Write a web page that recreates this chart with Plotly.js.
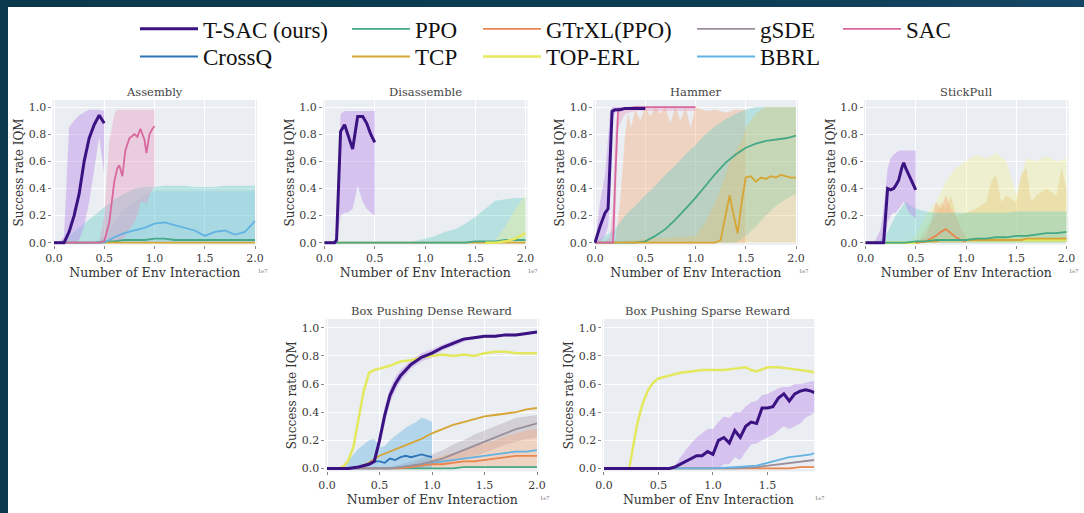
<!DOCTYPE html>
<html><head><meta charset="utf-8">
<script src="https://cdn.plot.ly/plotly-3.0.1.min.js"></script>
<style>
html,body{margin:0;padding:0;width:1084px;height:513px;overflow:hidden;background:linear-gradient(100deg,#0b384c 0%,#0d3c52 60%,#18496b 100%);}
#chart{position:absolute;left:8px;top:7px;width:1076px;height:506px;background:#fff;}
</style></head><body><div id="chart"></div>
<script>
// ---------------- series ----------------
const SERIES = ['T-SAC (ours)','PPO','GTrXL(PPO)','gSDE','SAC','CrossQ','TCP','TOP-ERL','BBRL'];
const LINE_COLORS = ['#3b1282','#45a886','#e8864f','#9b8f9c','#d8679e','#2f74b8','#d6a533','#e3e85c','#62b2e3'];
const FILL_COLORS = ['rgba(185,135,235,0.42)','rgba(95,205,195,0.36)','rgba(245,170,125,0.4)','rgba(160,145,160,0.33)','rgba(232,150,190,0.38)','rgba(110,185,230,0.45)','rgba(232,195,100,0.33)','rgba(242,242,150,0.38)','rgba(140,200,235,0.33)'];
const LINE_WIDTHS = [3,1.8,1.8,1.8,1.8,1.8,1.8,2.5,1.8];
const PANEL_TITLES = ['Assembly','Disassemble','Hammer','StickPull','Box Pushing Dense Reward','Box Pushing Sparse Reward'];
const X_TITLE = 'Number of Env Interaction';
const Y_TITLE = 'Success rate IQM';
const EXP_LABEL = '1e7';

// ---------------- shared x grids ----------------
const X_FULL = [0,0.1,0.2,0.3,0.4,0.5,0.6,0.7,0.8,0.9,1.0,1.1,1.2,1.3,1.4,1.5,1.6,1.7,1.8,1.9,2.0];
const X_HALF = [0,0.05,0.1,0.15,0.2,0.25,0.3,0.35,0.4,0.45,0.5];
const X_ONE = [0,0.05,0.1,0.15,0.2,0.25,0.3,0.35,0.4,0.45,0.5,0.55,0.6,0.65,0.7,0.75,0.8,0.85,0.9,0.95,1.0];
const ZERO21 = [0,0,0,0,0,0,0,0,0,0,0,0,0,0,0,0,0,0,0,0,0];

// ---------------- Assembly ----------------
const asm_tsac = [0,0,0,0.08,0.2,0.36,0.6,0.77,0.87,0.94,0.88];
const asm_tsac_lo = [0,0,0,0,0,0.02,0.12,0.3,0.55,0.78,0.5];
const asm_tsac_hi = [0,0,0.05,0.85,0.9,0.94,0.96,0.98,0.98,0.98,0.97];
const asm_sac_x = [0,0.45,0.5,0.55,0.6,0.63,0.65,0.68,0.71,0.75,0.8,0.83,0.86,0.88,0.9,0.92,0.95,0.98,1.0];
const asm_sac = [0,0,0.01,0.15,0.45,0.55,0.57,0.49,0.68,0.77,0.8,0.78,0.84,0.8,0.76,0.66,0.8,0.84,0.86];
const asm_sac_lo = [0,0,0,0,0,0,0,0.02,0.05,0.1,0.15,0.2,0.3,0.3,0.3,0.28,0.35,0.4,0.4];
const asm_sac_hi = [0,0,0.2,0.75,0.95,0.98,0.98,0.98,0.98,0.98,0.98,0.98,0.98,0.98,0.98,0.98,0.98,0.98,0.98];
const asm_ppo = [0,0,0,0,0,0.01,0.01,0.02,0.02,0.02,0.03,0.03,0.02,0.02,0.02,0.02,0.02,0.02,0.02,0.02,0.02];
const asm_ppo_hi = [0,0.02,0.08,0.14,0.2,0.26,0.32,0.36,0.4,0.41,0.41,0.42,0.42,0.42,0.41,0.41,0.41,0.42,0.42,0.42,0.42];
const asm_bbrl = [0,0,0,0,0,0,0.04,0.07,0.09,0.11,0.14,0.15,0.13,0.11,0.09,0.05,0.08,0.09,0.06,0.08,0.16];
const asm_bbrl_hi = [0,0,0,0,0,0.05,0.15,0.25,0.3,0.35,0.38,0.38,0.38,0.38,0.38,0.38,0.38,0.38,0.38,0.38,0.38];
const asm_tcp = [0,0,0,0,0,0,0,0,0,0,0,0,0,0,0,0,0,0,0,0,0];

// ---------------- Disassemble ----------------
const dis_tsac_x = [0,0.05,0.1,0.12,0.16,0.2,0.23,0.28,0.33,0.38,0.42,0.46,0.5];
const dis_tsac = [0,0,0,0.02,0.82,0.87,0.8,0.69,0.93,0.93,0.88,0.8,0.74];
const dis_tsac_lo = [0,0,0,0,0.2,0.22,0.22,0.25,0.42,0.3,0.25,0.22,0.2];
const dis_tsac_hi = [0,0,0,0.1,0.95,0.97,0.97,0.97,0.97,0.97,0.97,0.97,0.97];
const dis_ppo = [0,0,0,0,0,0,0,0,0,0,0,0,0,0,0,0.01,0.01,0.01,0.02,0.02,0.02];
const dis_ppo_hi = [0,0,0,0,0,0,0,0,0,0.01,0.03,0.05,0.08,0.1,0.14,0.19,0.25,0.31,0.32,0.33,0.33];
const dis_top_x = [1.6,1.7,1.8,1.9,2.0];
const dis_top = [0,0,0.01,0.03,0.07];
const dis_top_lo = [0,0,0,0,0];
const dis_top_hi = [0,0.02,0.12,0.25,0.35];
const dis_tcp = [0,0,0,0,0,0,0,0,0,0,0,0,0,0,0,0,0,0,0,0,0];

// ---------------- Hammer ----------------
const ham_tsac_x = [0,0.05,0.1,0.13,0.15,0.17,0.2,0.25,0.3,0.35,0.4,0.45,0.5];
const ham_tsac = [0,0.12,0.22,0.25,0.6,0.97,0.98,0.98,0.99,0.99,0.99,0.99,0.99];
const ham_tsac_hi = [0,0.3,0.5,0.75,0.95,1.0,1.0,1.0,1.0,1.0,1.0,1.0,1.0];
const ham_tsac_lo = [0,0,0.05,0.12,0.3,0.9,0.96,0.97,0.98,0.98,0.98,0.98,0.98];
const ham_sac_x = [0,0.1,0.15,0.18,0.2,0.23,0.3,0.4,0.5,0.6,0.7,0.8,0.9,1.0];
const ham_sac = [0,0,0,0,0.45,0.98,0.99,1,1,1,1,1,1,1];
const ham_sac_hi = [0,0,0.05,0.3,0.8,1,1,1,1,1,1,1,1,1];
const ham_sac_lo = [0,0,0,0,0.1,0.85,0.95,0.97,0.97,0.97,0.97,0.97,0.97,0.97];
const ham_gtrxl_x = [0.2,0.25,0.3,0.33,0.36,0.4,0.45,0.5,0.55,0.6,0.65,0.7,0.75,0.8,0.85,0.9,0.95,1.0,1.1,1.2,1.3,1.4,1.5];
const ham_gtrxl_hi = [0,0.3,0.8,0.95,0.85,0.98,0.9,1.0,0.93,1.0,0.95,1.0,0.88,1.0,0.9,1.0,0.85,1.0,0.97,0.98,0.96,0.98,0.98];
const ham_gtrxl_lo = [0,0,0,0,0,0,0,0,0,0,0,0,0,0,0,0,0,0,0,0,0,0,0];
const ham_ppo = [0,0,0,0,0,0.01,0.05,0.1,0.17,0.25,0.33,0.42,0.51,0.59,0.65,0.7,0.73,0.75,0.76,0.77,0.79];
const ham_ppo_hi = [0,0.05,0.1,0.2,0.27,0.35,0.42,0.5,0.57,0.65,0.72,0.8,0.86,0.91,0.95,0.98,1,1,1,1,1];
const ham_ppo_lo = [0,0,0,0,0,0,0,0,0,0,0,0,0,0,0,0.05,0.12,0.2,0.27,0.32,0.36];
const ham_tcp_x = [0,1.0,1.1,1.2,1.25,1.3,1.34,1.38,1.42,1.46,1.5,1.55,1.6,1.65,1.7,1.75,1.8,1.85,1.9,1.95,2.0];
const ham_tcp = [0,0,0,0,0.02,0.22,0.35,0.2,0.07,0.3,0.48,0.49,0.45,0.48,0.47,0.49,0.48,0.5,0.49,0.48,0.48];
const ham_tcp_hi = [0,0.05,0.15,0.3,0.4,0.5,0.6,0.65,0.7,0.75,0.85,0.9,0.95,0.98,1,1,1,1,1,1,1];
const ham_tcp_lo = [0,0,0,0,0,0,0,0,0,0,0,0,0,0,0,0,0,0,0,0,0];

// ---------------- StickPull ----------------
const stp_tsac_x = [0,0.05,0.1,0.15,0.18,0.2,0.22,0.25,0.28,0.3,0.33,0.36,0.38,0.4,0.43,0.46,0.5];
const stp_tsac = [0,0,0,0,0,0.2,0.4,0.39,0.4,0.42,0.46,0.55,0.59,0.55,0.5,0.45,0.39];
const stp_tsac_hi = [0,0,0.02,0.1,0.25,0.4,0.55,0.62,0.65,0.66,0.68,0.68,0.68,0.68,0.68,0.68,0.68];
const stp_tsac_lo = [0,0,0,0,0,0.02,0.15,0.2,0.22,0.22,0.25,0.28,0.3,0.28,0.22,0.2,0.18];
const stp_ppo = [0,0,0,0,0,0.01,0.01,0.02,0.02,0.02,0.02,0.03,0.03,0.04,0.04,0.05,0.05,0.06,0.07,0.07,0.08];
const stp_ppo_hi = [0,0,0.05,0.2,0.3,0.25,0.23,0.22,0.22,0.22,0.22,0.22,0.22,0.22,0.22,0.23,0.23,0.23,0.23,0.23,0.23];
const stp_top = [0,0,0,0,0,0,0.01,0.02,0.02,0.02,0.02,0.02,0.02,0.02,0.02,0.02,0.02,0.02,0.02,0.02,0.02];
const stp_top_hi = [0,0,0,0,0,0.05,0.2,0.3,0.45,0.55,0.6,0.65,0.62,0.66,0.6,0.35,0.62,0.6,0.64,0.6,0.62];
const stp_tcp_x = [0.5,0.6,0.7,0.75,0.8,0.85,0.9,1.0,1.1,1.2,1.25,1.3,1.35,1.4,1.5,1.55,1.6,1.65,1.7,1.8,1.9,1.95,2.0];
const stp_tcp = [0,0.01,0.01,0.02,0.02,0.02,0.02,0.02,0.02,0.02,0.02,0.02,0.02,0.02,0.02,0.02,0.03,0.03,0.03,0.03,0.03,0.03,0.03];
const stp_tcp_hi = [0,0.1,0.2,0.3,0.25,0.35,0.2,0.22,0.25,0.3,0.45,0.5,0.3,0.35,0.3,0.5,0.55,0.3,0.35,0.4,0.35,0.55,0.4];
const stp_tcp_lo = [0,0,0,0,0,0,0,0,0,0,0,0,0,0,0,0,0,0,0,0,0,0,0];
const stp_gtrxl_x = [0.5,0.6,0.65,0.7,0.75,0.8,0.85,0.9,0.95,1.0];
const stp_gtrxl = [0,0.01,0.03,0.05,0.08,0.1,0.07,0.04,0.02,0.01];
const stp_gtrxl_hi = [0,0.05,0.15,0.3,0.25,0.35,0.25,0.2,0.1,0.05];
const stp_gtrxl_lo = [0,0,0,0,0,0,0,0,0,0];

// ---------------- Box Pushing Dense ----------------
const bpd_tsac_x = [0,0.1,0.2,0.3,0.35,0.4,0.45,0.5,0.55,0.6,0.65,0.7,0.8,0.9,1.0,1.1,1.2,1.3,1.4,1.5,1.6,1.7,1.8,1.9,2.0];
const bpd_tsac = [0,0,0,0.01,0.02,0.03,0.05,0.2,0.38,0.52,0.6,0.66,0.74,0.79,0.82,0.86,0.89,0.92,0.93,0.94,0.94,0.95,0.95,0.96,0.97];
const bpd_tsac_hi = [0,0,0,0.02,0.03,0.05,0.08,0.25,0.44,0.57,0.65,0.7,0.77,0.82,0.85,0.88,0.91,0.93,0.94,0.95,0.95,0.96,0.96,0.97,0.98];
const bpd_tsac_lo = [0,0,0,0,0.01,0.02,0.03,0.15,0.32,0.47,0.55,0.62,0.71,0.76,0.79,0.84,0.87,0.9,0.92,0.93,0.93,0.94,0.94,0.95,0.96];
const bpd_top_x = [0,0.1,0.15,0.2,0.25,0.3,0.35,0.4,0.45,0.5,0.6,0.7,0.8,0.9,1.0,1.1,1.2,1.3,1.4,1.5,1.6,1.7,1.8,1.9,2.0];
const bpd_top = [0,0,0.01,0.05,0.15,0.35,0.55,0.68,0.7,0.71,0.73,0.76,0.77,0.79,0.8,0.81,0.8,0.81,0.8,0.82,0.83,0.83,0.82,0.82,0.82];
const bpd_cq = [0,0,0,0,0,0,0.01,0.02,0.03,0.05,0.05,0.04,0.07,0.06,0.08,0.09,0.08,0.09,0.1,0.09,0.08];
const bpd_cq_hi = [0,0,0,0.02,0.05,0.1,0.14,0.17,0.2,0.21,0.15,0.16,0.2,0.23,0.26,0.29,0.31,0.33,0.36,0.35,0.33];
const bpd_tcp = [0,0,0,0.01,0.04,0.09,0.12,0.15,0.18,0.21,0.25,0.28,0.31,0.33,0.35,0.37,0.38,0.39,0.4,0.42,0.43];
const bpd_gsde = [0,0,0,0,0,0,0,0.01,0.02,0.03,0.05,0.07,0.1,0.13,0.16,0.19,0.22,0.25,0.28,0.3,0.32];
const bpd_gsde_hi = [0,0,0,0,0,0,0.01,0.03,0.05,0.07,0.1,0.13,0.17,0.2,0.24,0.27,0.3,0.33,0.36,0.37,0.38];
const bpd_gsde_lo = [0,0,0,0,0,0,0,0,0,0.01,0.02,0.03,0.05,0.07,0.09,0.11,0.14,0.17,0.19,0.21,0.22];
const bpd_gtrxl = [0,0,0,0,0,0,0,0,0.01,0.02,0.03,0.03,0.04,0.05,0.05,0.06,0.07,0.08,0.09,0.09,0.09];
const bpd_gtrxl_hi = [0,0,0,0,0,0,0,0.01,0.03,0.05,0.07,0.09,0.11,0.13,0.16,0.18,0.2,0.23,0.25,0.27,0.28];
const bpd_bbrl = [0,0,0,0,0,0,0,0.01,0.02,0.03,0.04,0.05,0.06,0.07,0.08,0.09,0.1,0.11,0.12,0.12,0.13];
const bpd_ppo = [0,0,0,0,0,0,0,0,0,0,0,0,0,0.01,0.01,0.01,0.01,0.01,0.01,0.01,0.01];

// ---------------- Box Pushing Sparse ----------------
const bps_tsac_x = [0,0.2,0.4,0.6,0.65,0.7,0.75,0.8,0.85,0.9,0.95,1.0,1.05,1.1,1.15,1.2,1.25,1.3,1.35,1.4,1.45,1.5,1.55,1.6,1.65,1.7,1.75,1.8,1.85,1.9,1.93];
const bps_tsac = [0,0,0,0,0.01,0.03,0.05,0.07,0.09,0.09,0.12,0.1,0.2,0.22,0.18,0.27,0.22,0.3,0.33,0.32,0.43,0.43,0.44,0.5,0.53,0.48,0.53,0.55,0.56,0.55,0.54];
const bps_tsac_hi = [0,0,0,0,0.02,0.08,0.13,0.18,0.22,0.25,0.28,0.28,0.33,0.37,0.36,0.4,0.4,0.44,0.47,0.48,0.52,0.53,0.55,0.57,0.58,0.58,0.6,0.6,0.61,0.62,0.62];
const bps_tsac_lo = [0,0,0,0,0,0,0,0,0,0,0,0,0,0.03,0.03,0.08,0.06,0.12,0.17,0.18,0.2,0.22,0.24,0.27,0.3,0.28,0.3,0.32,0.36,0.38,0.4];
const bps_top_x = [0,0.1,0.2,0.23,0.25,0.3,0.35,0.4,0.45,0.5,0.6,0.7,0.8,0.9,1.0,1.1,1.2,1.3,1.35,1.4,1.5,1.6,1.7,1.8,1.9,1.93];
const bps_top = [0,0,0,0,0.08,0.3,0.45,0.55,0.61,0.64,0.66,0.68,0.69,0.7,0.7,0.7,0.71,0.72,0.7,0.69,0.72,0.72,0.71,0.7,0.69,0.68];
const bps_low_x = [0,0.5,1.0,1.2,1.4,1.5,1.6,1.7,1.8,1.9,1.93];
const bps_bbrl = [0,0,0,0.01,0.02,0.04,0.06,0.08,0.09,0.1,0.11];
const bps_gsde = [0,0,0,0,0.01,0.02,0.03,0.04,0.05,0.06,0.06];
const bps_gtrxl = [0,0,0,0,0,0,0,0,0.01,0.01,0.01];

// ---------------- build traces ----------------
const S = {TSAC:0,PPO:1,GTRXL:2,GSDE:3,SAC:4,CROSSQ:5,TCP:6,TOPERL:7,BBRL:8};
const traces = [];
const shown = {};
function ax(i){ return i===1 ? ['x','y'] : ['x'+i,'y'+i]; }
function band(p, s, xs, lo, hi){
  const [xa, ya] = ax(p);
  traces.push({x:xs, y:lo, xaxis:xa, yaxis:ya, mode:'lines', line:{width:0, color:'rgba(0,0,0,0)'}, showlegend:false, hoverinfo:'skip'});
  traces.push({x:xs, y:hi, xaxis:xa, yaxis:ya, mode:'lines', line:{width:0, color:'rgba(0,0,0,0)'}, fill:'tonexty', fillcolor:FILL_COLORS[s], showlegend:false, hoverinfo:'skip'});
}
function line(p, s, xs, ys){
  const [xa, ya] = ax(p);
  const leg = s===0 ? 'legend' : 'legend'+(s+1);
  traces.push({x:xs, y:ys, xaxis:xa, yaxis:ya, mode:'lines', name:SERIES[s], legend:leg,
    line:{color:LINE_COLORS[s], width:LINE_WIDTHS[s]}, showlegend: !shown[s]});
  shown[s] = true;
}
// Assembly
band(1,S.PPO,X_FULL,ZERO21,asm_ppo_hi);
band(1,S.BBRL,X_FULL,ZERO21,asm_bbrl_hi);
band(1,S.SAC,asm_sac_x,asm_sac_lo,asm_sac_hi);
band(1,S.TSAC,X_HALF,asm_tsac_lo,asm_tsac_hi);
line(1,S.PPO,X_FULL,asm_ppo);
line(1,S.TCP,X_FULL,asm_tcp);
line(1,S.BBRL,X_FULL,asm_bbrl);
line(1,S.SAC,asm_sac_x,asm_sac);
line(1,S.TSAC,X_HALF,asm_tsac);
// Disassemble
band(2,S.PPO,X_FULL,ZERO21,dis_ppo_hi);
band(2,S.TOPERL,dis_top_x,dis_top_lo,dis_top_hi);
band(2,S.TSAC,dis_tsac_x,dis_tsac_lo,dis_tsac_hi);
line(2,S.TCP,X_FULL,dis_tcp);
line(2,S.PPO,X_FULL,dis_ppo);
line(2,S.TOPERL,dis_top_x,dis_top);
line(2,S.TSAC,dis_tsac_x,dis_tsac);
// Hammer
band(3,S.GTRXL,ham_gtrxl_x,ham_gtrxl_lo,ham_gtrxl_hi);
band(3,S.PPO,X_FULL,ham_ppo_lo,ham_ppo_hi);
band(3,S.TCP,ham_tcp_x,ham_tcp_lo,ham_tcp_hi);
band(3,S.SAC,ham_sac_x,ham_sac_lo,ham_sac_hi);
band(3,S.TSAC,ham_tsac_x,ham_tsac_lo,ham_tsac_hi);
line(3,S.PPO,X_FULL,ham_ppo);
line(3,S.TCP,ham_tcp_x,ham_tcp);
line(3,S.SAC,ham_sac_x,ham_sac);
line(3,S.TSAC,ham_tsac_x,ham_tsac);
// StickPull
band(4,S.TOPERL,X_FULL,ZERO21,stp_top_hi);
band(4,S.TCP,stp_tcp_x,stp_tcp_lo,stp_tcp_hi);
band(4,S.GTRXL,stp_gtrxl_x,stp_gtrxl_lo,stp_gtrxl_hi);
band(4,S.PPO,X_FULL,ZERO21,stp_ppo_hi);
band(4,S.TSAC,stp_tsac_x,stp_tsac_lo,stp_tsac_hi);
line(4,S.TOPERL,X_FULL,stp_top);
line(4,S.TCP,stp_tcp_x,stp_tcp);
line(4,S.GTRXL,stp_gtrxl_x,stp_gtrxl);
line(4,S.PPO,X_FULL,stp_ppo);
line(4,S.TSAC,stp_tsac_x,stp_tsac);
// Box Pushing Dense
band(5,S.GSDE,X_FULL,bpd_gsde_lo,bpd_gsde_hi);
band(5,S.GTRXL,X_FULL,ZERO21,bpd_gtrxl_hi);
band(5,S.CROSSQ,X_ONE,ZERO21,bpd_cq_hi);
band(5,S.TSAC,bpd_tsac_x,bpd_tsac_lo,bpd_tsac_hi);
line(5,S.PPO,X_FULL,bpd_ppo);
line(5,S.BBRL,X_FULL,bpd_bbrl);
line(5,S.GTRXL,X_FULL,bpd_gtrxl);
line(5,S.GSDE,X_FULL,bpd_gsde);
line(5,S.TCP,X_FULL,bpd_tcp);
line(5,S.CROSSQ,X_ONE,bpd_cq);
line(5,S.TOPERL,bpd_top_x,bpd_top);
line(5,S.TSAC,bpd_tsac_x,bpd_tsac);
// Box Pushing Sparse
band(6,S.TSAC,bps_tsac_x,bps_tsac_lo,bps_tsac_hi);
line(6,S.GTRXL,bps_low_x,bps_gtrxl);
line(6,S.GSDE,bps_low_x,bps_gsde);
line(6,S.BBRL,bps_low_x,bps_bbrl);
line(6,S.TOPERL,bps_top_x,bps_top);
line(6,S.TSAC,bps_tsac_x,bps_tsac);

// ---------------- layout ----------------
const W = 1076, H = 506, OX = 8, OY = 7;
const px2x = p => (p - OX) / W;
const px2y = p => 1 - (p - OY) / H;
const XMIN = -0.015;
const PANELS = [
  {x0:54,    ppx:100.5, xmax:2.02, y0:240, ppy:137, top:96,  bot:242},
  {x0:324.5, ppx:100.5, xmax:2.02, y0:240, ppy:137, top:96,  bot:242},
  {x0:595,   ppx:100.5, xmax:2.02, y0:240, ppy:137, top:96,  bot:242},
  {x0:865.5, ppx:100.5, xmax:2.02, y0:240, ppy:137, top:96,  bot:242},
  {x0:327,   ppx:105,   xmax:2.02, y0:468, ppy:142, top:317, bot:471},
  {x0:604,   ppx:109,   xmax:1.93, y0:468, ppy:142, top:317, bot:471}
];
const FONT = 'DejaVu Serif';
const layout = {
  width:W, height:H, margin:{l:0,r:0,t:0,b:0},
  paper_bgcolor:'#ffffff', plot_bgcolor:'#eaedf1',
  font:{family:FONT, color:'#333'},
  annotations:[]
};
PANELS.forEach((p,i) => {
  const n = i+1;
  const xk = n===1 ? 'xaxis' : 'xaxis'+n;
  const yk = n===1 ? 'yaxis' : 'yaxis'+n;
  const left = p.x0 + XMIN*p.ppx, right = p.x0 + p.xmax*p.ppx;
  layout[xk] = {
    domain:[px2x(left), px2x(right)], range:[XMIN, p.xmax], anchor: n===1?'y':'y'+n,
    tick0:0, dtick:0.5, tickformat:'.1f', showgrid:true, gridcolor:'#ffffff', gridwidth:1,
    zeroline:false, showline:false, ticks:'outside', ticklen:3, tickcolor:'#888',
    tickfont:{family:FONT, size:11, color:'#3a3a3a'},
    title:{text:X_TITLE, font:{family:FONT, size:12.5, color:'#333'}, standoff:0}, fixedrange:true
  };
  layout[yk] = {
    domain:[px2y(p.bot), px2y(p.top)], range:[-(p.bot-p.y0)/p.ppy, (p.y0-p.top)/p.ppy], anchor: n===1?'x':'x'+n,
    tick0:0, dtick:0.2, tickformat:'.1f', showgrid:true, gridcolor:'#ffffff', gridwidth:1,
    zeroline:false, showline:false, ticks:'outside', ticklen:3, tickcolor:'#888',
    tickfont:{family:FONT, size:11, color:'#3a3a3a'},
    title:{text:Y_TITLE, font:{family:FONT, size:12, color:'#333'}, standoff:2}, fixedrange:true
  };
  layout.annotations.push({xref:'paper', yref:'paper', x:(px2x(left)+px2x(right))/2, y:px2y(p.top-8),
    text:PANEL_TITLES[i], showarrow:false, xanchor:'center', yanchor:'middle',
    font:{family:FONT, size:11.5, color:'#444'}});
  layout.annotations.push({xref:'paper', yref:'paper', x:px2x(right+5), y:px2y(p.bot+27),
    text:EXP_LABEL, showarrow:false, xanchor:'center', yanchor:'middle',
    font:{family:FONT, size:5, color:'#666'}});
});
// one legend box per entry, placed as in the reference grid
const LEG_PX = [140,352,483,697,843,140,352,483,697];
const LEG_PY = [24,24,24,24,24,52,52,52,52];
const LEG_SERIES = [0,1,2,3,4,5,6,7,8];
LEG_SERIES.forEach((s,k) => {
  const key = s===0 ? 'legend' : 'legend'+(s+1);
  layout[key] = {x:px2x(LEG_PX[k]-5), y:px2y(LEG_PY[k]), xanchor:'left', yanchor:'middle',
    bgcolor:'rgba(0,0,0,0)', borderwidth:0, itemwidth:58, tracegroupgap:0,
    font:{family:'Liberation Serif', size:23, color:'#111'}};
});
Plotly.newPlot('chart', traces, layout, {staticPlot:true, displayModeBar:false});
</script></body></html>
